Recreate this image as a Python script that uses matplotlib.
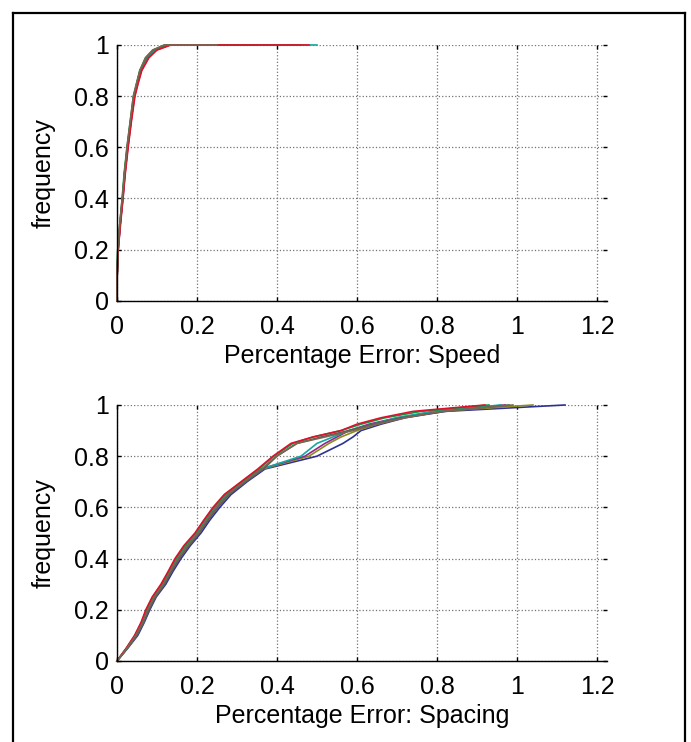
import matplotlib.pyplot as plt
from matplotlib.lines import Line2D
from matplotlib.ticker import FuncFormatter

plt.rcParams["font.family"] = ["Liberation Sans", "DejaVu Sans"]

# one colour per run, drawn in this order
run_colors = ["#2E3192", "#8C8C1C", "#93278F", "#14A8A0", "#5A5A5A",
              "#0A9A44", "#E0102C", "#7B6650"]

# --- speed panel: x value reached at each frequency level, per run ---
speed_freq = [0, 0.08, 0.2, 0.3, 0.4, 0.5, 0.6, 0.7, 0.8, 0.85, 0.9, 0.95, 0.98, 1.0, 1.0]
speed_err = [
    [0, 0, 0.003, 0.008, 0.015, 0.020, 0.027, 0.035, 0.044, 0.052, 0.061, 0.078, 0.096, 0.130, 0.30],
    [0, 0, 0.002, 0.007, 0.014, 0.019, 0.026, 0.034, 0.042, 0.050, 0.058, 0.076, 0.095, 0.128, 0.44],
    [0, 0, 0.003, 0.008, 0.014, 0.020, 0.027, 0.035, 0.043, 0.051, 0.060, 0.077, 0.097, 0.132, 0.40],
    [0, 0, 0.002, 0.008, 0.014, 0.019, 0.026, 0.034, 0.043, 0.050, 0.059, 0.075, 0.094, 0.127, 0.50],
    [0, 0, 0.003, 0.008, 0.014, 0.019, 0.026, 0.034, 0.042, 0.050, 0.058, 0.073, 0.091, 0.122, 0.35],
    [0, 0, 0.002, 0.007, 0.013, 0.018, 0.025, 0.033, 0.041, 0.049, 0.057, 0.072, 0.090, 0.120, 0.46],
    [0, 0, 0.003, 0.009, 0.015, 0.021, 0.028, 0.036, 0.045, 0.053, 0.062, 0.080, 0.100, 0.135, 0.48],
    [0, 0, 0.002, 0.007, 0.013, 0.019, 0.025, 0.033, 0.041, 0.049, 0.057, 0.071, 0.089, 0.118, 0.25],
]

# --- spacing panel ---
spacing_freq = [0, 0.05, 0.1, 0.15, 0.2, 0.25, 0.3, 0.35, 0.4, 0.45, 0.5, 0.55,
                0.6, 0.65, 0.7, 0.75, 0.8, 0.85, 0.875, 0.9, 0.925, 0.95, 0.975, 1.0]
spacing_err = [
    [0, 0.027, 0.052, 0.068, 0.082, 0.098, 0.122, 0.140, 0.160, 0.183, 0.210, 0.232,
     0.257, 0.285, 0.325, 0.370, 0.500, 0.565, 0.590, 0.610, 0.660, 0.720, 0.820, 1.120],
    [0, 0.025, 0.049, 0.065, 0.079, 0.095, 0.118, 0.135, 0.155, 0.178, 0.205, 0.226,
     0.250, 0.278, 0.320, 0.365, 0.480, 0.530, 0.560, 0.600, 0.650, 0.710, 0.800, 1.040],
    [0, 0.024, 0.046, 0.062, 0.077, 0.091, 0.116, 0.133, 0.151, 0.174, 0.201, 0.224,
     0.247, 0.274, 0.316, 0.360, 0.470, 0.520, 0.550, 0.580, 0.630, 0.700, 0.800, 0.970],
    [0, 0.026, 0.048, 0.066, 0.078, 0.093, 0.114, 0.130, 0.150, 0.175, 0.202, 0.220,
     0.244, 0.272, 0.318, 0.362, 0.460, 0.500, 0.540, 0.580, 0.640, 0.700, 0.790, 0.960],
    [0, 0.026, 0.050, 0.066, 0.080, 0.096, 0.119, 0.137, 0.156, 0.180, 0.206, 0.228,
     0.252, 0.280, 0.322, 0.366, 0.400, 0.450, 0.510, 0.580, 0.640, 0.710, 0.820, 0.980],
    [0, 0.024, 0.045, 0.061, 0.074, 0.090, 0.112, 0.130, 0.147, 0.170, 0.197, 0.218,
     0.242, 0.270, 0.312, 0.355, 0.392, 0.440, 0.490, 0.560, 0.610, 0.670, 0.760, 0.930],
    [0, 0.023, 0.044, 0.060, 0.072, 0.088, 0.110, 0.128, 0.145, 0.167, 0.195, 0.217,
     0.240, 0.268, 0.310, 0.352, 0.390, 0.435, 0.490, 0.560, 0.600, 0.660, 0.740, 0.920],
    [0, 0.025, 0.047, 0.064, 0.077, 0.093, 0.116, 0.133, 0.152, 0.176, 0.203, 0.224,
     0.248, 0.276, 0.318, 0.362, 0.398, 0.450, 0.520, 0.590, 0.650, 0.720, 0.810, 0.990],
]

x_ticks = [0, 0.2, 0.4, 0.6, 0.8, 1.0, 1.2]
y_ticks = [0, 0.2, 0.4, 0.6, 0.8, 1.0]

FS = 18
fmt = FuncFormatter(lambda v, _: f"{v:g}")


def style_axes(ax, xlabel):
    ax.set_xlim(0, 1.225)
    ax.set_ylim(0, 1)
    ax.set_xticks(x_ticks)
    ax.set_yticks(y_ticks)
    ax.xaxis.set_major_formatter(fmt)
    ax.yaxis.set_major_formatter(fmt)
    ax.grid(True, linestyle=":", color="0.45", linewidth=0.9)
    ax.set_axisbelow(True)
    for side in ["top", "right"]:
        ax.spines[side].set_visible(False)
    for side in ["left", "bottom"]:
        ax.spines[side].set_linewidth(1.0)
    ax.tick_params(direction="in", length=3, width=1, top=True, right=True,
                   labelsize=FS)
    ax.tick_params(axis="x", pad=10)
    ax.tick_params(axis="y", pad=6)
    ax.set_xlabel(xlabel, fontsize=FS, labelpad=4)
    ax.set_ylabel("frequency", fontsize=FS, labelpad=13)


fig = plt.figure(figsize=(6.91, 7.42), dpi=100)
ax1 = fig.add_axes([0.1693, 0.5947, 0.7091, 0.3447])
ax2 = fig.add_axes([0.1693, 0.1092, 0.7091, 0.3450])

for xs, c in zip(speed_err, run_colors):
    ax1.plot(xs, speed_freq, color=c, linewidth=1.2, clip_on=False)
for xs, c in zip(spacing_err, run_colors):
    ax2.plot(xs, spacing_freq, color=c, linewidth=1.2, clip_on=False)

style_axes(ax1, "Percentage Error: Speed")
style_axes(ax2, "Percentage Error: Spacing")

# black frame round the figure (open at the bottom)
W, H = 691, 742
xl, xr, yt = 13.5 / W, 685 / W, 1 - 12.5 / H
for xs, ys in [([xl, xl], [0, yt]), ([xl, xr], [yt, yt]), ([xr, xr], [yt, 0])]:
    fig.add_artist(Line2D(xs, ys, color="black", linewidth=1.6,
                          transform=fig.transFigure))

fig.savefig("out.png", dpi=100)
